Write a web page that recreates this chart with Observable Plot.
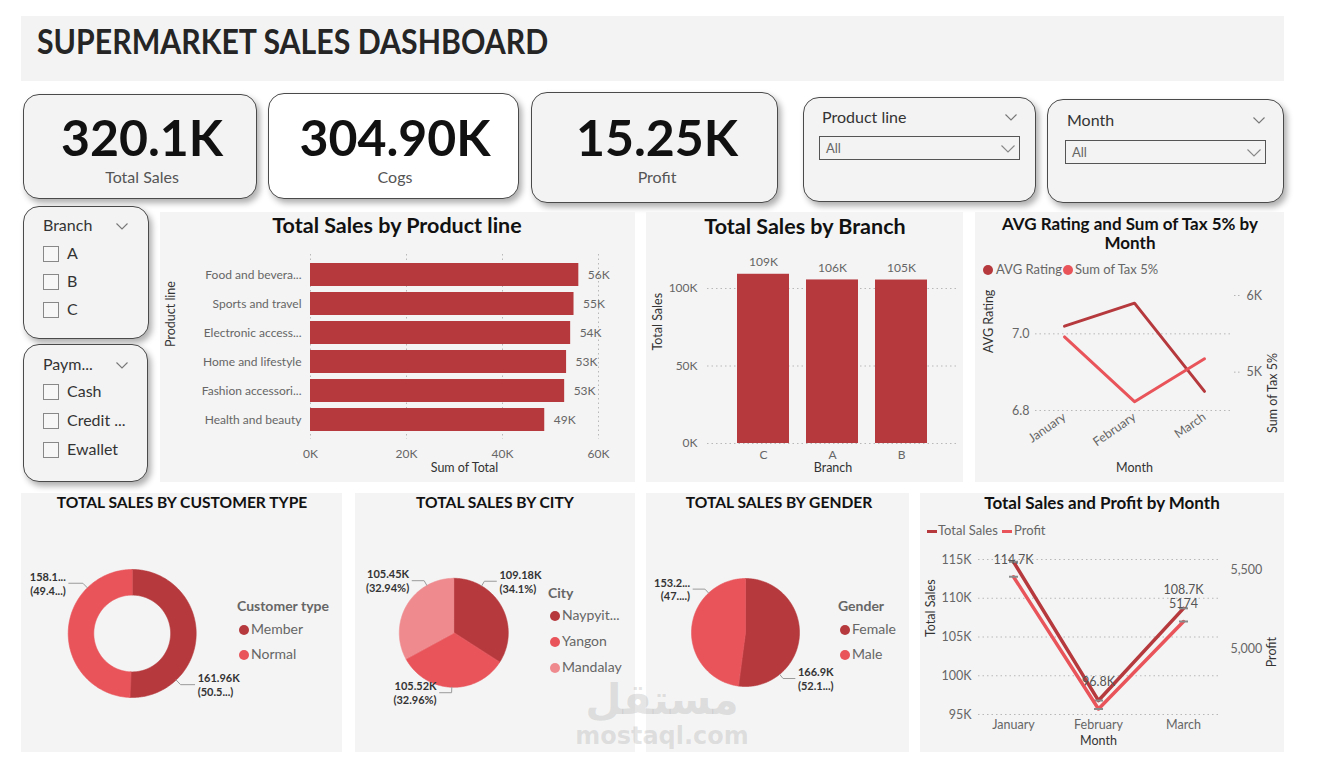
<!DOCTYPE html>
<html>
<head>
<meta charset="utf-8">
<script src="https://cdn.jsdelivr.net/npm/d3@7"></script>
<script src="https://cdn.jsdelivr.net/npm/@observablehq/plot@0.6"></script>
<style>
  body { margin: 0; background: #fff; font-family: Lato, "Noto Sans", sans-serif; }
  #dash { position: relative; width: 1326px; height: 763px; overflow: hidden; background: #fff; }
  #dash svg { overflow: visible; display: block; }
</style>
</head>
<body>
<div id="dash"></div>
<script>
// ---------- data ----------
const kpiLabels = ["Total Sales", "Cogs", "Profit"];
const kpiValues = ["320.1K", "304.90K", "15.25K"];

const productLines = ["Food and beverages", "Sports and travel", "Electronic accessories", "Home and lifestyle", "Fashion accessories", "Health and beauty"];
const productLineTicks = ["Food and bevera...", "Sports and travel", "Electronic access...", "Home and lifestyle", "Fashion accessori...", "Health and beauty"];
const productSales = [55900, 54900, 54200, 53350, 52950, 48800];

const branches = ["C", "A", "B"];
const branchSales = [109180, 105520, 105450];

const months = ["January", "February", "March"];
const avgRating = [7.02, 7.08, 6.85];
const taxTotal = [5460, 4615, 5174];
const monthSales = [114700, 96800, 108700];
const monthProfit = [5460, 4615, 5174];

const customerTypes = ["Member", "Normal"];
const customerSales = [161960, 158140];
const customerLabels = [["161.96K", "(50.5...)"], ["158.1...", "(49.4...)"]];

const cities = ["Naypyitaw", "Yangon", "Mandalay"];
const cityLegend = ["Naypyit...", "Yangon", "Mandalay"];
const citySales = [109180, 105520, 105450];
const cityLabels = [["109.18K", "(34.1%)"], ["105.52K", "(32.96%)"], ["105.45K", "(32.94%)"]];

const genders = ["Female", "Male"];
const genderSales = [166900, 153200];
const genderLabels = [["166.9K", "(52.1...)"], ["153.2...", "(47....)"]];

const branchOptions = ["A", "B", "C"];
const paymentOptions = ["Cash", "Credit ...", "Ewallet"];

// ---------- styling ----------
const FONT = "Lato, 'Noto Sans', sans-serif";
const DARK = "#b5393d", MID = "#e8545a", LIGHT = "#ef8b8f";
const GRID = {stroke: "#b8b8b8", strokeOpacity: 1, strokeDasharray: "1.5,3"};
const kFmt = d => d / 1000 + "K";
const kRound = d => Math.round(d / 1000) + "K";
const baseStyle = {background: "transparent", fontFamily: FONT, fontSize: "12px", color: "#666", overflow: "visible"};

const dash = document.getElementById("dash");

function box(x, y, w, h, css = {}) {
  const e = document.createElement("div");
  Object.assign(e.style, {position: "absolute", left: x + "px", top: y + "px", width: w + "px", height: h + "px", boxSizing: "border-box"}, css);
  dash.appendChild(e);
  return e;
}
function txt(s, x, y, o = {}) {
  const size = o.size || 13;
  const e = document.createElement("div");
  Object.assign(e.style, {
    position: "absolute", whiteSpace: "nowrap", lineHeight: "1", fontSize: size + "px",
    fontWeight: o.weight || 400, color: o.color || "#555", fontFamily: o.family || FONT,
    top: (y - size * 0.55) + "px", zIndex: o.z || 2
  });
  e.textContent = s;
  if (o.anchor === "middle") { e.style.left = x + "px"; e.style.transform = "translateX(-50%)"; }
  else if (o.anchor === "end") { e.style.right = (1326 - x) + "px"; }
  else e.style.left = x + "px";
  if (o.squeeze) { e.style.transform = `scaleX(${o.squeeze})`; e.style.transformOrigin = "left center"; }
  dash.appendChild(e);
  return e;
}
function chevron(x, y, w = 12, color = "#777") {
  const e = box(x, y, w, w / 2 + 1, {zIndex: 3});
  e.innerHTML = `<svg width="${w}" height="${w / 2 + 1}"><polyline points="0.5,0.5 ${w / 2},${w / 2} ${w - 0.5},0.5" fill="none" stroke="${color}" stroke-width="1.1"/></svg>`;
  return e;
}
function mount(x, y, w, h, plots) {
  const d = box(x, y, w, h, {zIndex: 2});
  plots.forEach(p => { p.style.position = "absolute"; p.style.left = "0"; p.style.top = "0"; d.appendChild(p); });
}
const card = {border: "1.5px solid #4a4a4a", borderRadius: "16px", boxShadow: "3px 4px 6px rgba(0,0,0,0.32)", background: "#f3f3f3"};

// ---------- header ----------
box(21, 16, 1263, 65, {background: "#f3f3f3"});
txt("SUPERMARKET SALES DASHBOARD", 37, 43, {size: 34, weight: 700, color: "#252525", squeeze: 0.89});

// ---------- KPI cards ----------
const kpiBoxes = [[23, 94, 234, 105, "#f3f3f3", 142], [268, 93, 251, 106, "#ffffff", 395], [531, 92, 247, 111, "#f3f3f3", 657]];
kpiBoxes.forEach(([x, y, w, h, bg, cx], i) => {
  box(x, y, w, h, {...card, background: bg});
  txt(kpiValues[i], cx, 139, {size: 50, weight: 700, color: "#111", anchor: "middle"});
  txt(kpiLabels[i], cx, 178, {size: 16, color: "#555", anchor: "middle"});
});

// ---------- dropdown slicers ----------
function dropdown(x, y, w, h, title, tx, ty, bx, by) {
  box(x, y, w, h, card);
  txt(title, tx, ty, {size: 16, color: "#333"});
  chevron(x + w - 31, ty - 4);
  box(bx, by, 201, 24, {border: "1.5px solid #555", background: "#f3f3f3", zIndex: 2});
  txt("All", bx + 7, by + 13, {size: 13, color: "#666"});
  chevron(bx + 182, by + 9, 14, "#888");
}
dropdown(803, 97, 233, 105, "Product line", 822, 118, 819, 136);
dropdown(1047, 99, 237, 104, "Month", 1067, 121, 1065, 140);

// ---------- checkbox slicers ----------
function checklist(x, y, w, h, title, ty, items, iy) {
  box(x, y, w, h, card);
  txt(title, 43, ty, {size: 16, color: "#333"});
  chevron(116, ty - 3);
  items.forEach((it, i) => {
    const cy = iy[i];
    box(43, cy - 8, 16, 16, {border: "1px solid #888", background: "#f7f7f7", zIndex: 2});
    txt(it, 67, cy, {size: 16, color: "#333"});
  });
}
checklist(23, 206, 126, 133, "Branch", 226, branchOptions, [254, 282, 310]);
checklist(23, 344, 125, 138, "Paym...", 365, paymentOptions, [392, 421, 450]);

// ---------- panels ----------
[[160, 212, 475, 270], [646, 212, 317, 270], [975, 212, 309, 270],
 [21, 493, 321, 259], [355, 493, 280, 259], [646, 493, 263, 259], [920, 493, 364, 259]]
  .forEach(([x, y, w, h]) => box(x, y, w, h, {background: "#f4f4f4"}));

// ---------- Total Sales by Product line ----------
txt("Total Sales by Product line", 397, 227, {size: 21.5, weight: 700, color: "#111", anchor: "middle"});
const productData = productLines.map((p, i) => ({line: p, sales: productSales[i]}));
const xTicks = [0, 20000, 40000, 60000];
mount(160, 212, 475, 270, [Plot.plot({
  width: 475, height: 270, marginLeft: 150, marginRight: 37, marginTop: 42, marginBottom: 43,
  style: baseStyle,
  x: {domain: [0, 60000]},
  y: {domain: productLines, paddingInner: 0.22, paddingOuter: 0.28},
  marks: [
    Plot.gridX(xTicks, GRID),
    Plot.barX(productData, {x: "sales", y: "line", fill: DARK}),
    Plot.text(productData, {x: "sales", y: "line", text: d => kRound(d.sales), textAnchor: "start", dx: 9, fill: "#666", fontSize: 12}),
    Plot.axisX(xTicks, {tickSize: 0, tickPadding: 10, tickFormat: kFmt, label: null, fontSize: 12}),
    Plot.axisY({tickSize: 0, tickPadding: 9, tickFormat: d => productLineTicks[productLines.indexOf(d)], label: null, fontSize: 12}),
    Plot.text(["Sum of Total"], {frameAnchor: "bottom", text: d => d, dx: 10, dy: 32, fill: "#333", fontSize: 12.5}),
    Plot.text(["Product line"], {frameAnchor: "left", text: d => d, dx: -140, rotate: -90, fill: "#333", fontSize: 12.5})
  ]
})]);

// ---------- Total Sales by Branch ----------
txt("Total Sales by Branch", 805, 228, {size: 21.5, weight: 700, color: "#111", anchor: "middle"});
const branchData = branches.map((b, i) => ({branch: b, sales: branchSales[i]}));
const bTicks = [0, 50000, 100000];
mount(646, 212, 317, 270, [Plot.plot({
  width: 317, height: 270, marginLeft: 61, marginRight: 5, marginTop: 45, marginBottom: 39,
  style: baseStyle,
  x: {domain: branches, paddingInner: 0.243, paddingOuter: 0.42},
  y: {domain: [0, 120000]},
  marks: [
    Plot.gridY(bTicks, GRID),
    Plot.barY(branchData, {x: "branch", y: "sales", fill: DARK}),
    Plot.text(branchData, {x: "branch", y: "sales", text: d => kRound(d.sales), dy: -12, fill: "#666", fontSize: 12}),
    Plot.axisY(bTicks, {tickSize: 0, tickPadding: 10, tickFormat: kFmt, label: null, fontSize: 12}),
    Plot.axisX({tickSize: 0, tickPadding: 7, label: null, fontSize: 12}),
    Plot.text(["Total Sales"], {frameAnchor: "left", text: d => d, dx: -50, rotate: -90, fill: "#333", fontSize: 12.5}),
    Plot.text(["Branch"], {frameAnchor: "bottom", text: d => d, dy: 28, fill: "#333", fontSize: 12.5})
  ]
})]);

// ---------- AVG Rating and Sum of Tax 5% by Month ----------
txt("AVG Rating and Sum of Tax 5% by", 1130, 224, {size: 17, weight: 700, color: "#111", anchor: "middle"});
txt("Month", 1130, 243, {size: 17, weight: 700, color: "#111", anchor: "middle"});
box(983, 265, 10, 10, {background: DARK, borderRadius: "50%", zIndex: 2});
txt("AVG Rating", 996, 270, {size: 13, color: "#666"});
box(1063, 265, 10, 10, {background: MID, borderRadius: "50%", zIndex: 2});
txt("Sum of Tax 5%", 1075, 270, {size: 13, color: "#666"});
const taxData = months.map((m, i) => ({month: m, rating: avgRating[i], tax: taxTotal[i]}));
const taxDims = {width: 309, height: 270, marginLeft: 60, marginRight: 51, marginTop: 83, marginBottom: 72, style: baseStyle};
const taxX = {domain: months, type: "point", padding: 0.4};
mount(975, 212, 309, 270, [
  Plot.plot({
    ...taxDims, x: taxX, y: {domain: [6.8, 7.1]},
    marks: [
      Plot.gridY([6.8, 7.0], GRID),
      Plot.axisY([6.8, 7.0], {tickSize: 0, tickPadding: 6, tickFormat: d3.format(".1f"), label: null, fontSize: 12.5}),
      Plot.axisX({tickSize: 0, tickPadding: 5, tickRotate: -35, label: null, fontSize: 12.5}),
      Plot.line(taxData, {x: "month", y: "rating", stroke: DARK, strokeWidth: 3}),
      Plot.text(["AVG Rating"], {frameAnchor: "left", text: d => d, dx: -47, rotate: -90, fill: "#333", fontSize: 12.5}),
      Plot.text(["Month"], {frameAnchor: "bottom", text: d => d, dy: 61, fill: "#333", fontSize: 12.5})
    ]
  }),
  Plot.plot({
    ...taxDims, x: {...taxX, axis: null}, y: {domain: [4500, 6000]},
    marks: [
      Plot.axisY([5000, 6000], {anchor: "right", tickSize: 8, tickPadding: 5, tickFormat: kFmt, label: null, strokeDasharray: "1.5,2.5", strokeOpacity: 0.45, fontSize: 12.5}),
      Plot.line(taxData, {x: "month", y: "tax", stroke: MID, strokeWidth: 3}),
      Plot.text(["Sum of Tax 5%"], {frameAnchor: "right", text: d => d, dx: 39, rotate: -90, fill: "#333", fontSize: 12.5})
    ]
  })
]);

// ---------- Total Sales and Profit by Month ----------
txt("Total Sales and Profit by Month", 1102, 503, {size: 17, weight: 700, color: "#111", anchor: "middle"});
box(927, 530, 10, 3, {background: DARK, zIndex: 2});
txt("Total Sales", 938, 531, {size: 13, color: "#666"});
box(1002, 530, 10, 3, {background: MID, zIndex: 2});
txt("Profit", 1014, 531, {size: 13, color: "#666"});
const monthData = months.map((m, i) => ({month: m, sales: monthSales[i], profit: monthProfit[i]}));
const smDims = {width: 364, height: 259, marginLeft: 58, marginRight: 66, marginTop: 66, marginBottom: 38, style: baseStyle};
const smX = {domain: months, type: "point", padding: 0.41};
const salesDomain = [95000, 115000];
const sTicks = d3.range(95000, 115001, 5000);
const pointTick = {draw(ctx, size) { const r = Math.sqrt(size / Math.PI); ctx.moveTo(-r, 0); ctx.lineTo(r, 0); }};
mount(920, 493, 364, 259, [
  Plot.plot({
    ...smDims, x: smX, y: {domain: salesDomain},
    marks: [
      Plot.gridY(sTicks, GRID),
      Plot.axisY(sTicks, {tickSize: 0, tickPadding: 7, tickFormat: kFmt, label: null, fontSize: 12.5}),
      Plot.axisX({tickSize: 0, tickPadding: 6, label: null, fontSize: 12.5}),
      Plot.line(monthData, {x: "month", y: "sales", stroke: DARK, strokeWidth: 3.5}),
      Plot.dot(monthData, {x: "month", y: "sales", symbol: pointTick, r: 4.5, stroke: "#8a8a8a", strokeWidth: 2}),
      Plot.text(monthData, {x: "month", y: d => Math.min(d.sales + 2400, salesDomain[1]), text: d => (d.sales / 1000).toFixed(1) + "K", fill: "#555", fontSize: 12.5}),
      Plot.text(["Total Sales"], {frameAnchor: "left", text: d => d, dx: -48, rotate: -90, fill: "#333", fontSize: 12.5}),
      Plot.text(["Month"], {frameAnchor: "bottom", text: d => d, dy: 30, fill: "#333", fontSize: 12.5})
    ]
  }),
  Plot.plot({
    ...smDims, x: {...smX, axis: null}, y: {domain: [4580, 5570]},
    marks: [
      Plot.axisY([5000, 5500], {anchor: "right", tickSize: 0, tickPadding: 12, tickFormat: d3.format(","), label: null, fontSize: 12.5}),
      Plot.line(monthData, {x: "month", y: "profit", stroke: MID, strokeWidth: 3.5}),
      Plot.dot(monthData, {x: "month", y: "profit", symbol: pointTick, r: 4.5, stroke: "#8a8a8a", strokeWidth: 2}),
      Plot.text(monthData.slice(-1), {x: "month", y: "profit", text: d => String(d.profit), dy: -18, fill: "#555", fontSize: 12.5}),
      Plot.text(["Profit"], {frameAnchor: "right", text: d => d, dx: 53, rotate: -90, fill: "#333", fontSize: 12.5})
    ]
  })
]);

// ---------- pies ----------
function pieChart({x, y, w, h, cx, cy, r, inner, names, values, colors, labels, fracs}) {
  const total = d3.sum(values);
  const pts = [], leaders = [], tags = [];
  let acc = 0;
  values.forEach((v, i) => {
    const a0 = acc / total * 2 * Math.PI;
    acc += v;
    const a1 = acc / total * 2 * Math.PI;
    const n = Math.max(4, Math.ceil((a1 - a0) / 0.015));
    for (let k = 0; k <= n; k++) {
      const a = a0 + (a1 - a0) * k / n;
      pts.push({name: names[i], x: Math.sin(a), y: Math.cos(a)});
    }
    if (inner > 0) {
      for (let k = n; k >= 0; k--) {
        const a = a0 + (a1 - a0) * k / n;
        pts.push({name: names[i], x: inner * Math.sin(a), y: inner * Math.cos(a)});
      }
    } else pts.push({name: names[i], x: 0, y: 0});
    // leader line from the slice edge out to its label
    const a = a0 + (a1 - a0) * fracs[i];
    const ux = Math.sin(a), uy = Math.cos(a);
    const side = ux > 0.1 ? 1 : -1;
    const hx = ux * 1.1 + side * 0.22, hy = uy * 1.1;
    leaders.push({k: i, x: ux, y: uy}, {k: i, x: ux * 1.1, y: uy * 1.1}, {k: i, x: hx, y: hy});
    tags.push({x: hx, y: hy, side, text: labels[i].join("\n")});
  });
  const labelStyle = {x: "x", y: "y", text: "text", fill: "#333", fontWeight: 700, fontSize: 11, lineHeight: 1.25};
  mount(x, y, w, h, [Plot.plot({
    width: w, height: h, margin: 0, style: baseStyle,
    x: {domain: [-cx / r, (w - cx) / r], axis: null},
    y: {domain: [-(h - cy) / r, cy / r], axis: null},
    color: {domain: names, range: colors},
    marks: [
      Plot.line(pts, {x: "x", y: "y", z: "name", fill: "name", stroke: "name", strokeWidth: 0.6, curve: "linear-closed"}),
      Plot.line(leaders, {x: "x", y: "y", z: "k", stroke: "#9a9a9a", strokeWidth: 1}),
      Plot.text(tags.filter(d => d.side > 0), {...labelStyle, textAnchor: "start", dx: 3}),
      Plot.text(tags.filter(d => d.side < 0), {...labelStyle, textAnchor: "end", dx: -3})
    ]
  })]);
}
function pieLegend(title, tx, ty, items, colors, iy) {
  txt(title, tx, ty, {size: 14, weight: 700, color: "#666"});
  items.forEach((it, i) => {
    box(tx + 2, iy[i] - 5, 10, 10, {background: colors[i], borderRadius: "50%", zIndex: 2});
    txt(it, tx + 14, iy[i], {size: 14, color: "#666"});
  });
}

txt("TOTAL SALES BY CUSTOMER TYPE", 182, 504, {size: 15.6, weight: 700, color: "#111", anchor: "middle"});
pieChart({x: 21, y: 493, w: 321, h: 259, cx: 110.7, cy: 140, r: 64, inner: 0.6,
  names: customerTypes, values: customerSales, colors: [DARK, MID], labels: customerLabels, fracs: [0.75, 0.75]});
pieLegend("Customer type", 237, 607, customerTypes, [DARK, MID], [630, 655]);

txt("TOTAL SALES BY CITY", 495, 504, {size: 15.6, weight: 700, color: "#111", anchor: "middle"});
pieChart({x: 355, y: 493, w: 280, h: 259, cx: 98.3, cy: 139.3, r: 54.5, inner: 0,
  names: cities, values: citySales, colors: [DARK, MID, LIGHT], labels: cityLabels, fracs: [0.25, 0.5, 0.75]});
pieLegend("City", 548, 594, cityLegend, [DARK, MID, LIGHT], [616, 642, 668]);

txt("TOTAL SALES BY GENDER", 779, 504, {size: 15.6, weight: 700, color: "#111", anchor: "middle"});
pieChart({x: 646, y: 493, w: 263, h: 259, cx: 99, cy: 139, r: 54, inner: 0,
  names: genders, values: genderSales, colors: [DARK, MID], labels: genderLabels, fracs: [0.75, 0.75]});
pieLegend("Gender", 838, 607, genders, [DARK, MID], [630, 655]);

// ---------- site mark ----------
txt("مستقل", 662, 702, {size: 42, weight: 700, color: "rgba(140,140,140,0.22)", anchor: "middle", family: "'DejaVu Sans', sans-serif", z: 5});
txt("mostaql.com", 662, 737, {size: 24, weight: 700, color: "rgba(140,140,140,0.22)", anchor: "middle", family: "'DejaVu Sans', sans-serif", z: 5});
</script>
</body>
</html>
